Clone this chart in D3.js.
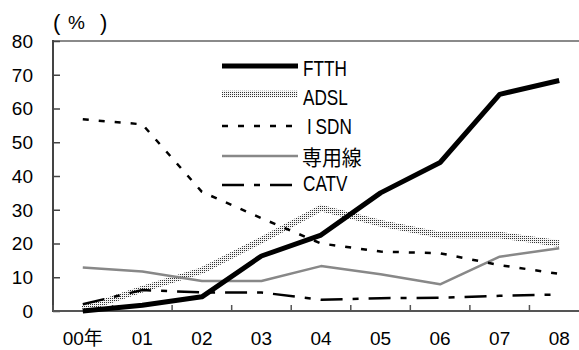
<!DOCTYPE html>
<html>
<head>
<meta charset="utf-8">
<script src="https://cdn.jsdelivr.net/npm/d3@7"></script>
<style>
  html, body { margin: 0; padding: 0; background: #fff; }
  svg { display: block; }
  text { font-family: "Liberation Sans", Arial, "Noto Sans CJK JP", sans-serif; fill: #000; }
</style>
</head>
<body>
<svg id="chart" width="579" height="350"></svg>
<script>
// Years on the horizontal axis
const years = ["00年", "01", "02", "03", "04", "05", "06", "07", "08"];
const yTicks = [0, 10, 20, 30, 40, 50, 60, 70, 80];

// Share of each access type (%)
const ftth    = [0, 1.7, 4.2, 16.3, 22.5, 35, 44, 64.2, 68.3];
const adsl    = [0.5, 6.5, 12, 21, 30.5, 26, 22.5, 22.5, 20];
const isdn    = [56.8, 55.3, 35.3, 27.5, 20, 17.6, 17.1, 13.6, 11];
const leased  = [12.9, 11.7, 8.9, 8.9, 13.3, 10.9, 7.9, 16.1, 18.6];
const catv    = [2.0, 6.2, 5.5, 5.5, 3.3, 3.8, 3.9, 4.5, 4.9];

const seriesNames = ["FTTH", "ADSL", "ISDN", "専用線", "CATV"];

(function draw() {
  const svg = d3.select("#chart");

  // Stipple used for the ADSL band
  const defs = svg.append("defs");
  const pat = defs.append("pattern")
    .attr("id", "stipple")
    .attr("patternUnits", "userSpaceOnUse")
    .attr("width", 2).attr("height", 2);
  pat.append("rect").attr("width", 2).attr("height", 2).attr("fill", "#f4f4f4");
  pat.append("rect").attr("x", 0).attr("y", 0).attr("width", 1).attr("height", 1).attr("fill", "#333");

  const mLeft = 53, mRight = 589, mTop = 41, mBottom = 311;

  const x = d3.scaleBand().domain(years).range([mLeft, mRight]).padding(0);
  const y = d3.scaleLinear().domain([0, 80]).range([mBottom, mTop]);
  const cx = d => x(d) + x.bandwidth() / 2;

  // Top border
  svg.append("line").attr("x1", mLeft).attr("x2", mRight).attr("y1", mTop).attr("y2", mTop)
    .attr("stroke", "#8a8a8a").attr("stroke-width", 2);

  // Left axis with inward ticks
  const yAxis = d3.axisRight(y).tickValues(yTicks).tickSize(7).tickFormat("");
  const gy = svg.append("g").attr("transform", `translate(${mLeft},0)`).call(yAxis);
  gy.select(".domain").remove();
  gy.selectAll(".tick line").attr("stroke", "#444").attr("stroke-width", 1.5);
  svg.append("line").attr("x1", mLeft).attr("x2", mLeft).attr("y1", mTop - 1).attr("y2", mBottom + 1)
    .attr("stroke", "#444").attr("stroke-width", 2);

  // Y tick labels
  svg.append("g").selectAll("text").data(yTicks).join("text")
    .attr("x", 33).attr("y", d => y(d)).attr("dy", "0.36em")
    .attr("text-anchor", "end").style("font-size", "19px")
    .text(d => d);

  // Bottom axis: ticks between categories, pointing up
  const xb = years.map(d => x(d)).concat([mRight]);
  svg.append("g").selectAll("line").data(xb).join("line")
    .attr("x1", d => d).attr("x2", d => d).attr("y1", mBottom).attr("y2", mBottom - 6)
    .attr("stroke", "#555").attr("stroke-width", 1.5);
  svg.append("line").attr("x1", mLeft).attr("x2", mRight).attr("y1", mBottom).attr("y2", mBottom)
    .attr("stroke", "#555").attr("stroke-width", 2);

  // Category labels
  svg.append("g").selectAll("text").data(years).join("text")
    .attr("x", d => cx(d)).attr("y", 345)
    .attr("text-anchor", "middle").style("font-size", "19px")
    .text(d => d);

  // Unit label
  const unit = svg.append("text").attr("y", 29).style("font-size", "19px");
  unit.append("tspan").attr("x", 53).attr("y", 30).style("font-size", "22px").text("(");
  unit.append("tspan").attr("x", 68).attr("y", 29).text("%");
  unit.append("tspan").attr("x", 100).attr("y", 30).style("font-size", "22px").text(")");

  const line = d3.line().x((d, i) => cx(years[i])).y(d => y(d));

  const styles = [
    { data: ftth,   stroke: "#000", width: 5, dash: null },
    { data: adsl,   stroke: "url(#stipple)", width: 6.5, dash: null },
    { data: isdn,   stroke: "#000", width: 2.5, dash: "6,10" },
    { data: leased, stroke: "#888", width: 2.5, dash: null },
    { data: catv,   stroke: "#000", width: 2.5, dash: "22,10,6,10" }
  ];

  // Draw order: background series first, FTTH on top
  [1, 3, 2, 4, 0].forEach(k => {
    const s = styles[k];
    svg.append("path").datum(s.data)
      .attr("d", line)
      .attr("fill", "none")
      .attr("stroke", s.stroke)
      .attr("stroke-width", s.width)
      .attr("stroke-linejoin", "round")
      .attr("stroke-dasharray", s.dash);
  });

  // Legend
  const legendY = [66, 94, 126, 156, 185];
  const labelY = [76, 105, 134, 165, 191];
  const lg = svg.append("g");
  seriesNames.forEach((name, i) => {
    const s = styles[i];
    lg.append("line")
      .attr("x1", 222).attr("x2", 298).attr("y1", legendY[i]).attr("y2", legendY[i])
      .attr("stroke", s.stroke).attr("stroke-width", s.width)
      .attr("stroke-dasharray", s.dash);
    const isCJK = /[\u3000-\u9fff]/.test(name);
    const t = lg.append("text")
      .attr("transform", `translate(${isCJK ? 302 : 303},${labelY[i]}) scale(${isCJK ? 0.95 : 0.78},1)`)
      .style("font-size", isCJK ? "21px" : "22px");
    if (isCJK) t.style("font-family", "'Noto Sans CJK JP', sans-serif");
    if (name === "ISDN") {
      t.append("tspan").attr("x", 5).text("I");
      t.append("tspan").attr("dx", 5).text("SDN");
    } else {
      t.text(name);
    }
  });
})();
</script>
</body>
</html>
